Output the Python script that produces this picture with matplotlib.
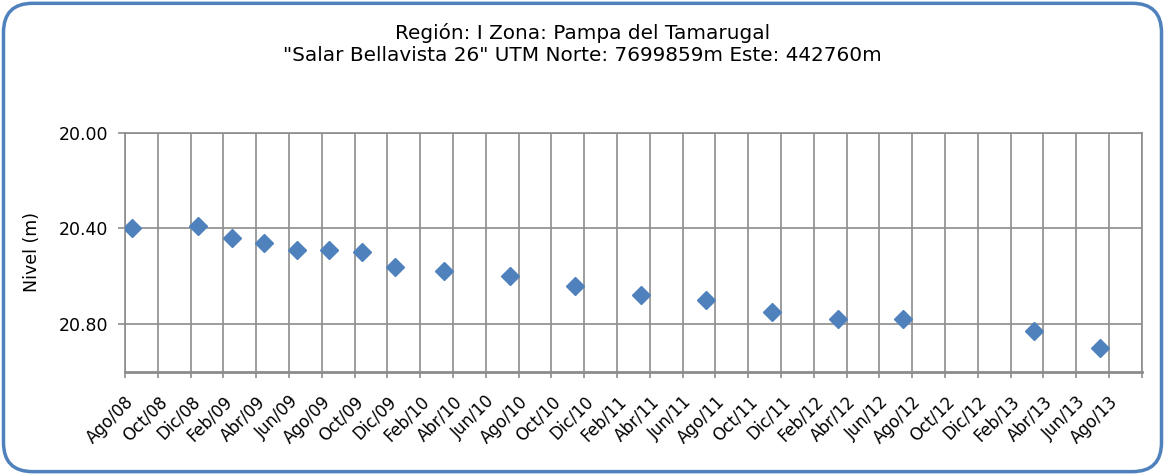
import matplotlib
matplotlib.use("Agg")
import matplotlib.pyplot as plt
from matplotlib.patches import FancyBboxPatch
from matplotlib.transforms import ScaledTranslation
import calendar
import datetime as dt

# Measurement dates and water level (depth, m)
dates = ["2008-08-15", "2008-12-15", "2009-02-15", "2009-04-15", "2009-06-15",
         "2009-08-15", "2009-10-15", "2009-12-15", "2010-03-15", "2010-07-15",
         "2010-11-15", "2011-03-15", "2011-07-15", "2011-11-15", "2012-03-15",
         "2012-07-15", "2013-03-15", "2013-07-15"]
nivel = [20.40, 20.39, 20.44, 20.46, 20.49, 20.49, 20.50, 20.56, 20.58, 20.60,
         20.64, 20.68, 20.70, 20.75, 20.78, 20.78, 20.83, 20.90]

month_names = ["Ene", "Feb", "Mar", "Abr", "May", "Jun",
               "Jul", "Ago", "Sep", "Oct", "Nov", "Dic"]

y_ticks = [20.00, 20.40, 20.80]
y_ticklabels = ["20.00", "20.40", "20.80"]

title_lines = ["Región: I Zona: Pampa del Tamarugal",
               "\"Salar Bellavista 26\" UTM Norte: 7699859m Este: 442760m"]

BLUE = "#4F81BD"
GRID = "#8C8C8C"
START_YEAR, START_MONTH = 2008, 8


def month_axis(d):
    """Months elapsed since the first axis month, with day fraction."""
    ndays = calendar.monthrange(d.year, d.month)[1]
    return ((d.year - START_YEAR) * 12 + d.month - START_MONTH
            + (d.day - 1) / ndays)


fig = plt.figure(figsize=(11.65, 4.74), dpi=100)
ax = fig.add_axes([0.1073, 0.2158, 0.8727, 0.5042])

x = [month_axis(dt.datetime.strptime(d, "%Y-%m-%d")) for d in dates]
ax.plot(x, nivel, linestyle="none", marker="D", markersize=9.5,
        color=BLUE, markeredgecolor=BLUE, zorder=3)

# Bimonthly ticks from Ago/08; the axis runs one step past the last label
ticks = list(range(0, 64, 2))
labels = []
for t in ticks:
    m = START_MONTH - 1 + t
    labels.append(f"{month_names[m % 12]}/{(START_YEAR + m // 12) % 100:02d}")
labels[-1] = ""
ax.set_xlim(ticks[0], ticks[-1])
ax.set_xticks(ticks)
ax.set_xticklabels(labels, rotation=45, ha="right", rotation_mode="anchor",
                   fontsize=12)
shift = ScaledTranslation(3 / 72, 0, fig.dpi_scale_trans)
for lab in ax.get_xticklabels():
    lab.set_transform(lab.get_transform() + shift)

ax.set_ylim(21.0, 20.0)
ax.set_yticks(y_ticks)
ax.set_yticklabels(y_ticklabels, fontsize=12.5)
ax.set_ylabel("Nivel (m)", fontsize=12.5)
ax.yaxis.set_label_coords(-0.083, 0.5)

ax.grid(True, color=GRID, linewidth=1.2)
ax.set_axisbelow(True)
for s in ax.spines.values():
    s.set_color(GRID)
    s.set_linewidth(1.2)
ax.spines["bottom"].set_linewidth(2)
ax.tick_params(axis="both", color=GRID, width=1.2, length=5)
ax.tick_params(axis="x", length=4.5, pad=10.5)
ax.tick_params(axis="y", pad=7)

fig.text(0.5, 0.930, title_lines[0], ha="center", va="center", fontsize=14.4)
fig.text(0.5, 0.882, title_lines[1], ha="center", va="center", fontsize=14.4)

border = FancyBboxPatch((0.003, 0.005), 0.994, 0.988,
                        boxstyle="round,pad=0,rounding_size=0.025",
                        transform=fig.transFigure, fill=False,
                        edgecolor=BLUE, linewidth=2.5, mutation_aspect=2.46)
fig.patches.append(border)

fig.savefig("out.png", dpi=100)
